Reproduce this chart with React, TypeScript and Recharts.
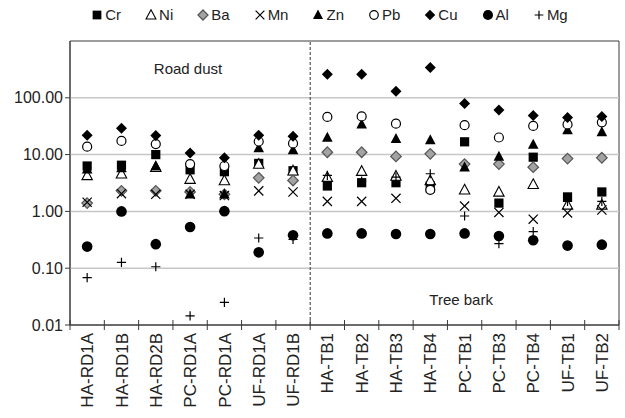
import React from "react";
import {
  ScatterChart, Scatter, XAxis, YAxis, ReferenceLine, ReferenceArea,
  ReferenceDot, Legend,
} from "recharts";

const samples = [
  "HA-RD1A", "HA-RD1B", "HA-RD2B", "PC-RD1A", "PC-RD1A", "UF-RD1A", "UF-RD1B",
  "HA-TB1", "HA-TB2", "HA-TB3", "HA-TB4", "PC-TB1", "PC-TB3", "PC-TB4", "UF-TB1", "UF-TB2",
];

const cr = [6.3, 6.5, 10, 5.4, 5.0, 7.0, 5.2, 2.8, 3.2, 3.2, 2.8, 16.8, 1.4, 9.0, 1.8, 2.2];
const ni = [4.3, 4.6, 6.0, 3.7, 3.5, 6.8, 5.2, 4.0, 5.1, 4.2, 3.5, 2.4, 2.2, 3.0, 1.3, 1.3];
const ba = [1.4, 2.3, 2.3, 2.2, 2.0, 3.9, 3.5, 11, 11, 9.3, 10.3, 6.8, 6.8, 6.0, 8.5, 8.8];
const mn = [1.45, 2.05, 2.0, 2.0, 1.9, 2.3, 2.2, 1.5, 1.5, 1.7, 2.6, 1.24, 0.96, 0.73, 0.94, 1.06];
const zn = [5.5, 5.8, 6.3, 2.0, 2.0, 13, 12, 20, 34, 19, 18, 6.0, 9.2, 15, 27, 25];
const pb = [13.8, 17.4, 15.3, 6.8, 6.3, 17, 15.7, 46, 47, 35, 2.4, 33, 20, 32, 34, 37];
const cu = [22, 29, 21.7, 10.7, 8.8, 22, 21, 260, 260, 130, 342, 79, 61, 49, 45, 47];
const al = [0.24, 1.0, 0.265, 0.53, 1.01, 0.19, 0.38, 0.41, 0.41, 0.4, 0.4, 0.41, 0.37, 0.31, 0.25, 0.26];
const mg = [0.068, 0.127, 0.106, 0.0145, 0.025, 0.34, 0.32, 4.3, 3.4, 4.0, 4.6, 0.83, 0.27, 0.44, 1.5, 1.5];

const yTicks = [0.01, 0.1, 1, 10, 100];
const gridValues = [0.1, 1, 10, 100];

const series = [
  { name: "Cr", kind: "square", values: cr },
  { name: "Ni", kind: "triangle", values: ni },
  { name: "Ba", kind: "diamond", values: ba },
  { name: "Mn", kind: "x", values: mn },
  { name: "Zn", kind: "triangleFill", values: zn },
  { name: "Pb", kind: "circle", values: pb },
  { name: "Cu", kind: "diamondFill", values: cu },
  { name: "Al", kind: "dot", values: al },
  { name: "Mg", kind: "plus", values: mg },
];

const W = 625;
const H = 418;
const LEFT = 70;
const RIGHT = 6;
const HALF = (W - LEFT - RIGHT) / samples.length / 2;
const AXIS = "#3a3a3a";
const FONT = "'Liberation Sans', Arial, sans-serif";

function Marker({ kind, cx, cy, s = 1 }: { kind: string; cx: number; cy: number; s?: number }) {
  switch (kind) {
    case "square":
      return <rect x={cx - 4.6 * s} y={cy - 4.6 * s} width={9.2 * s} height={9.2 * s} fill="#000" />;
    case "triangle":
      return <path d={`M${cx},${cy - 5.5 * s}L${cx + 5.2 * s},${cy + 4.2 * s}L${cx - 5.2 * s},${cy + 4.2 * s}Z`}
        fill="#fff" stroke="#000" strokeWidth={1.1} />;
    case "triangleFill":
      return <path d={`M${cx},${cy - 5.8 * s}L${cx + 5.3 * s},${cy + 4.2 * s}L${cx - 5.3 * s},${cy + 4.2 * s}Z`} fill="#000" />;
    case "diamond":
      return <path d={`M${cx},${cy - 5.3 * s}L${cx + 5.3 * s},${cy}L${cx},${cy + 5.3 * s}L${cx - 5.3 * s},${cy}Z`}
        fill="#a3a3a3" stroke="#555" strokeWidth={1.2} />;
    case "diamondFill":
      return <path d={`M${cx},${cy - 5.5 * s}L${cx + 5.5 * s},${cy}L${cx},${cy + 5.5 * s}L${cx - 5.5 * s},${cy}Z`} fill="#000" />;
    case "x":
      return <path d={`M${cx - 4.6 * s},${cy - 4.6 * s}L${cx + 4.6 * s},${cy + 4.6 * s}M${cx + 4.6 * s},${cy - 4.6 * s}L${cx - 4.6 * s},${cy + 4.6 * s}`}
        stroke="#000" strokeWidth={1.2} fill="none" />;
    case "circle":
      return <circle cx={cx} cy={cy} r={4.5 * s} fill="#fff" stroke="#000" strokeWidth={1.2} />;
    case "dot":
      return <circle cx={cx} cy={cy} r={5.3 * s} fill="#000" />;
    case "plus":
      return <path d={`M${cx - 4.6 * s},${cy}L${cx + 4.6 * s},${cy}M${cx},${cy - 4.6 * s}L${cx},${cy + 4.6 * s}`}
        stroke="#000" strokeWidth={1.2} fill="none" />;
    default:
      return null;
  }
}

function XTick(props: any) {
  const { x, y, payload } = props;
  const i = payload.value;
  return (
    <g>
      <line x1={x} x2={x} y1={y - 5} y2={y + 5} stroke={AXIS} />
      {i < samples.length && (
        <text transform={`translate(${x + HALF},${y + 8}) rotate(-90)`} textAnchor="end" dy="0.36em"
          fontSize={17} fill="#222" fontFamily={FONT}>
          {samples[i]}
        </text>
      )}
    </g>
  );
}

function LegendBox() {
  return (
    <div style={{ display: "flex", justifyContent: "center", gap: 24, fontFamily: FONT, fontSize: 15, color: "#222", paddingLeft: 34 }}>
      {series.map((s) => (
        <div key={s.name} style={{ display: "flex", alignItems: "center", gap: 2 }}>
          <svg width={12} height={12}><Marker kind={s.kind} cx={6} cy={6} s={0.95} /></svg>
          <span>{s.name}</span>
        </div>
      ))}
    </div>
  );
}

export default function App() {
  return (
    <div style={{ position: "absolute", left: 0, top: 0, background: "#fff" }}>
      <ScatterChart width={W} height={H} margin={{ top: 41, right: RIGHT, left: 0, bottom: 0 }}>
        <XAxis type="number" dataKey="x" domain={[0, samples.length]}
          ticks={samples.map((_, i) => i).concat(samples.length)} interval={0}
          tickLine={false} tickSize={0} tickMargin={0} axisLine={{ stroke: AXIS }} height={93} tick={<XTick />} />
        <YAxis type="number" dataKey="y" scale="log" domain={[0.01, 1000]} allowDataOverflow
          ticks={yTicks} interval={0} tickFormatter={(v) => Number(v).toFixed(2)} width={LEFT}
          tickSize={5} tickLine={{ stroke: AXIS }} axisLine={{ stroke: AXIS }}
          tick={{ fontSize: 16, fill: "#222", fontFamily: FONT }} />
        {gridValues.map((g) => (
          <ReferenceLine key={g} y={g} stroke="#c6c6c6" strokeWidth={1.5} />
        ))}
        <ReferenceArea x1={0} x2={samples.length} y1={0.01} y2={1000} fill="none" stroke={AXIS} strokeOpacity={1} />
        <ReferenceLine x={7} stroke="#333" strokeDasharray="3 2" />
        <ReferenceDot x={3.44} y={330} r={1} fill="none" stroke="none"
          label={{ value: "Road dust", position: "center", fontSize: 15, fill: "#222", fontFamily: FONT }} />
        <ReferenceDot x={11.4} y={0.028} r={1} fill="none" stroke="none"
          label={{ value: "Tree bark", position: "center", fontSize: 15, fill: "#222", fontFamily: FONT }} />
        {series.map((s) => (
          <Scatter key={s.name} name={s.name} isAnimationActive={false}
            data={s.values.map((v, i) => ({ x: i + 0.5, y: v }))}
            shape={(p: any) => <Marker kind={s.kind} cx={p.cx} cy={p.cy} />} />
        ))}
        <Legend verticalAlign="middle" align="center" layout="horizontal"
          wrapperStyle={{ top: 6, left: 0, width: W }} content={() => <LegendBox />} />
      </ScatterChart>
    </div>
  );
}
